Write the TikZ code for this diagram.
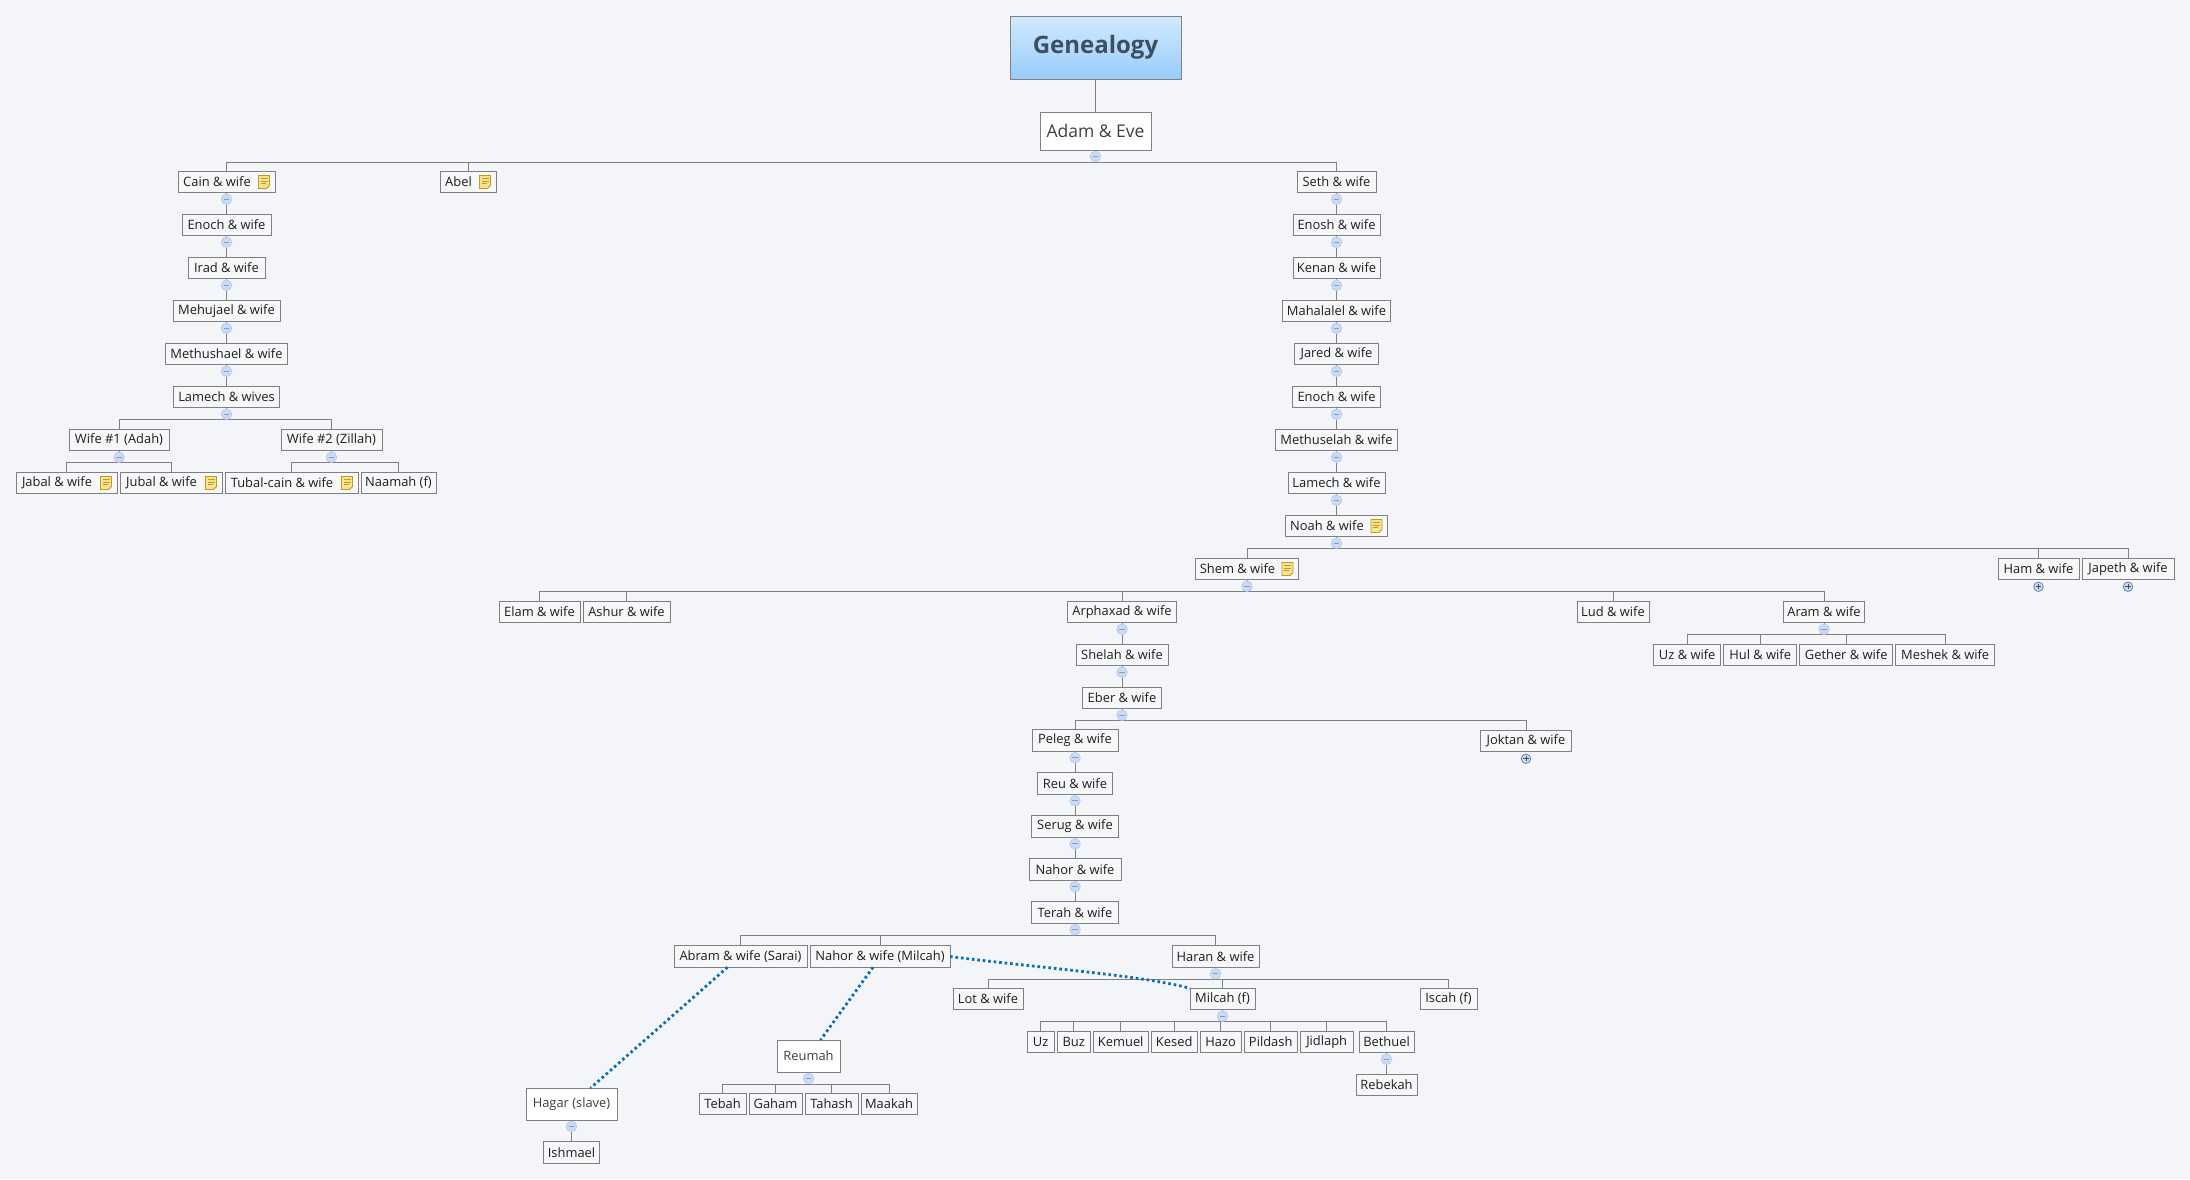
\documentclass[tikz,border=0pt]{standalone}
\usepackage{fontspec}
\setmainfont{Open Sans}
\usetikzlibrary{positioning}
\definecolor{pagebg}{HTML}{F3F5F9}
\definecolor{boxline}{HTML}{808080}
\definecolor{boxfill}{HTML}{F6F7F9}
\definecolor{dotblue}{HTML}{0B6DB8}
\definecolor{rootink}{HTML}{3D4F60}
\definecolor{roottop}{HTML}{D2E9FF}
\definecolor{rootbot}{HTML}{98CCFB}
\definecolor{btnfill}{HTML}{CBDBF5}
\definecolor{btnline}{HTML}{B8CCEC}
\definecolor{btnmark}{HTML}{7F9DC8}
\definecolor{plusline}{HTML}{5F86B0}
\definecolor{notefill}{HTML}{F7E38F}
\definecolor{noteline}{HTML}{C09A22}
\tikzset{
  topic/.style={draw=boxline, fill=boxfill, line width=0.9pt, outer sep=0pt, inner sep=1pt, minimum height=21.5pt, font=\fontsize{12.9}{15}\selectfont, text=black!88},
  bigtopic/.style={topic, fill=white, text=black!75, minimum height=32pt},
  noted/.style={execute at end node=\hspace{19pt}},
  link/.style={draw=boxline, line width=0.9pt},
  rel/.style={draw=dotblue, line width=2.8pt, dash pattern=on 2.6pt off 2.9pt},
  minusbtn/.style={circle, draw=btnline, fill=btnfill, line width=0.8pt, minimum size=10.5pt, inner sep=0pt,
    path picture={\draw[btnmark, line width=0.8pt] (-2.8pt,0pt) -- (2.8pt,0pt);}},
  plusbtn/.style={circle, draw=plusline, fill=btnfill, line width=0.8pt, minimum size=9.5pt, inner sep=0pt,
    path picture={\draw[rootink, line width=0.8pt] (-2.6pt,0pt) -- (2.6pt,0pt) (0pt,-2.6pt) -- (0pt,2.6pt);}},
  noteicon/.pic={
    \draw[draw=noteline, fill=notefill, line width=0.9pt] (-5.5,-6.5) -- (5.5,-6.5) -- (5.5,3.5) -- (2.5,6.5) -- (-5.5,6.5) -- cycle;
    \draw[noteline, line width=0.7pt] (-3.5,-3.5) -- (3.5,-3.5) (-3.5,-1) -- (3.5,-1) (-3.5,1.5) -- (1.5,1.5);
  }
}
\begin{document}
\begin{tikzpicture}[x=1pt, y=-1pt, node distance=21.5pt and 3pt]
\fill[pagebg] (0,0) rectangle (2190,1179);
\useasboundingbox (0,0) rectangle (2190,1179);
% root
\node[draw=boxline, line width=0.9pt, outer sep=0pt, top color=roottop, bottom color=rootbot, minimum width=171pt, minimum height=63pt, font=\fontsize{24}{28}\selectfont\bfseries, text=rootink] (root) at (1095.5,47.5) {Genealogy};
\node[topic, fill=white, font=\fontsize{17.5}{20}\selectfont, text=black!75, minimum width=111pt, minimum height=38pt] (adam) at (1095.5,131) {Adam \& Eve};
% Cain side
\node[topic, noted, minimum width=97pt] (cain) at (226.5,182) {Cain \& wife};
\node[topic, minimum width=89pt, below=of cain] (enochc) {Enoch \& wife};
\node[topic, minimum width=77pt, below=of enochc] (irad) {Irad \& wife};
\node[topic, minimum width=107pt, below=of irad] (mehujael) {Mehujael \& wife};
\node[topic, minimum width=122pt, below=of mehujael] (methushael) {Methushael \& wife};
\node[topic, minimum width=106pt, below=of methushael] (lamechc) {Lamech \& wives};
\node[topic, minimum width=100pt] (adah) at (119,440) {Wife \#1 (Adah)};
\node[topic, minimum width=101pt] (zillah) at (331.5,440) {Wife \#2 (Zillah)};
\node[topic, noted, minimum width=101pt] (jabal) at (66.5,483) {Jabal \& wife};
\node[topic, noted, minimum width=102pt, right=of jabal] (jubal) {Jubal \& wife};
\node[topic, noted, minimum width=133pt, right=of jubal] (tubal) {Tubal-cain \& wife};
\node[topic, minimum width=75pt, right=of tubal] (naamah) {Naamah (f)};
\node[topic, noted, minimum width=56pt] (abel) at (468,182) {Abel};
% Seth side
\node[topic, minimum width=79pt] (seth) at (1336.5,182) {Seth \& wife};
\node[topic, minimum width=87pt, below=of seth] (enosh) {Enosh \& wife};
\node[topic, minimum width=87pt, below=of enosh] (kenan) {Kenan \& wife};
\node[topic, minimum width=108pt, below=of kenan] (mahalalel) {Mahalalel \& wife};
\node[topic, minimum width=84pt, below=of mahalalel] (jared) {Jared \& wife};
\node[topic, minimum width=88pt, below=of jared] (enochs) {Enoch \& wife};
\node[topic, minimum width=122pt, below=of enochs] (methuselah) {Methuselah \& wife};
\node[topic, minimum width=97pt, below=of methuselah] (lamechs) {Lamech \& wife};
\node[topic, noted, minimum width=102pt, below=of lamechs] (noah) {Noah \& wife};
\node[topic, noted, minimum width=103pt] (shem) at (1247,569) {Shem \& wife};
\node[topic, minimum width=81pt] (ham) at (2038.5,569) {Ham \& wife};
\node[topic, minimum width=92pt, right=of ham] (japeth) {Japeth \& wife};
% Shem's sons
\node[topic, minimum width=81pt] (elam) at (539.5,612) {Elam \& wife};
\node[topic, minimum width=87pt, right=of elam] (ashur) {Ashur \& wife};
\node[topic, minimum width=109pt] (arphaxad) at (1122,612) {Arphaxad \& wife};
\node[topic, minimum width=72pt] (lud) at (1613,612) {Lud \& wife};
\node[topic, minimum width=81pt] (aram) at (1824,612) {Aram \& wife};
\node[topic, minimum width=67pt] (uza) at (1687.2,655) {Uz \& wife};
\node[topic, minimum width=73pt, right=of uza] (hul) {Hul \& wife};
\node[topic, minimum width=93pt, right=of hul] (gether) {Gether \& wife};
\node[topic, minimum width=99pt, right=of gether] (meshek) {Meshek \& wife};
% down to Terah
\node[topic, minimum width=92pt, below=of arphaxad] (shelah) {Shelah \& wife};
\node[topic, minimum width=79pt, below=of shelah] (eber) {Eber \& wife};
\node[topic, minimum width=86pt] (peleg) at (1075,740.5) {Peleg \& wife};
\node[topic, minimum width=91pt] (joktan) at (1526,741) {Joktan \& wife};
\node[topic, minimum width=75pt, below=of peleg] (reu) {Reu \& wife};
\node[topic, minimum width=87pt, below=of reu] (serug) {Serug \& wife};
\node[topic, minimum width=92pt, below=of serug] (nahorf) {Nahor \& wife};
\node[topic, minimum width=87pt, below=of nahorf] (terah) {Terah \& wife};
% Terah's sons
\node[topic, minimum width=133pt] (abram) at (740.5,956.5) {Abram \& wife (Sarai)};
\node[topic, minimum width=140pt, right=of abram] (nahor) {Nahor \& wife (Milcah)};
\node[topic, minimum width=87pt] (haran) at (1215.5,956.5) {Haran \& wife};
\node[topic, minimum width=70pt] (lot) at (988,999) {Lot \& wife};
\node[topic, minimum width=65pt] (milcah) at (1222.5,999) {Milcah (f)};
\node[topic, minimum width=57pt] (iscah) at (1448.5,999) {Iscah (f)};
% Milcah's sons
\node[topic, minimum width=27pt] (uzb) at (1040.7,1042) {Uz};
\node[topic, minimum width=33pt, right=of uzb] (buz) {Buz};
\node[topic, minimum width=55pt, right=of buz] (kemuel) {Kemuel};
\node[topic, minimum width=46pt, right=of kemuel] (kesed) {Kesed};
\node[topic, minimum width=41pt, right=of kesed] (hazo) {Hazo};
\node[topic, minimum width=53pt, right=of hazo] (pildash) {Pildash};
\node[topic, minimum width=53pt, right=of pildash] (jidlaph) {Jidlaph};
\node[topic, minimum width=55pt] (bethuel) at (1386.5,1042) {Bethuel};
\node[topic, minimum width=61pt, below=of bethuel] (rebekah) {Rebekah};
% floating topics
\node[bigtopic, minimum width=63pt] (reumah) at (808.5,1056) {Reumah};
\node[topic, minimum width=47pt] (tebah) at (722.5,1104) {Tebah};
\node[topic, minimum width=53pt, right=of tebah] (gaham) {Gaham};
\node[topic, minimum width=53pt, right=of gaham] (tahash) {Tahash};
\node[topic, minimum width=56pt, right=of tahash] (maakah) {Maakah};
\node[bigtopic, minimum width=91pt] (hagar) at (571.5,1104) {Hagar (slave)};
\node[topic, minimum width=56pt, below=of hagar] (ishmael) {Ishmael};
% connectors
\draw[link] (root) -- (adam);
\foreach \p/\k in {cain/enochc, enochc/irad, irad/mehujael, mehujael/methushael, methushael/lamechc,
  seth/enosh, enosh/kenan, kenan/mahalalel, mahalalel/jared, jared/enochs, enochs/methuselah, methuselah/lamechs, lamechs/noah,
  arphaxad/shelah, shelah/eber, peleg/reu, reu/serug, serug/nahorf, nahorf/terah, bethuel/rebekah, hagar/ishmael}
  \draw[link] (\p) -- (\k);
\foreach \p/\kids in {adam/{cain,abel,seth}, lamechc/{adah,zillah}, adah/{jabal,jubal}, zillah/{tubal,naamah},
  noah/{shem,ham,japeth}, shem/{elam,ashur,arphaxad,lud,aram}, aram/{uza,hul,gether,meshek}, eber/{peleg,joktan},
  terah/{abram,nahor,haran}, haran/{lot,milcah,iscah}, milcah/{uzb,buz,kemuel,kesed,hazo,pildash,jidlaph,bethuel},
  reumah/{tebah,gaham,tahash,maakah}}
  \foreach \k in \kids
    \draw[link] (\p.south) -- ++(0,12) -| (\k.north);
\draw[rel] ([xshift=-13pt]abram.south) -- ([xshift=19pt]hagar.north);
\draw[rel] ([xshift=-7pt]nahor.south) -- ([xshift=12pt]reumah.north);
\draw[rel] (nahor.east) .. controls (1040,968) and (1140,975) .. (milcah.north west);
% expand buttons
\foreach \n in {adam, cain, enochc, irad, mehujael, methushael, lamechc, adah, zillah, seth, enosh, kenan, mahalalel, jared, enochs,
  methuselah, lamechs, noah, shem, aram, arphaxad, shelah, eber, peleg, reu, serug, nahorf, terah, haran, milcah, bethuel, reumah, hagar}
  \node[minusbtn] (\n-btn) at ([yshift=-6.5pt]\n.south) {};
\foreach \n in {ham, japeth, joktan}
  \node[plusbtn] (\n-btn) at ([yshift=-7pt]\n.south) {};
% note icons
\foreach \n in {cain, abel, jabal, jubal, tubal, noah, shem}
  \pic at ([xshift=-11pt]\n.east) {noteicon};
\end{tikzpicture}
\end{document}
